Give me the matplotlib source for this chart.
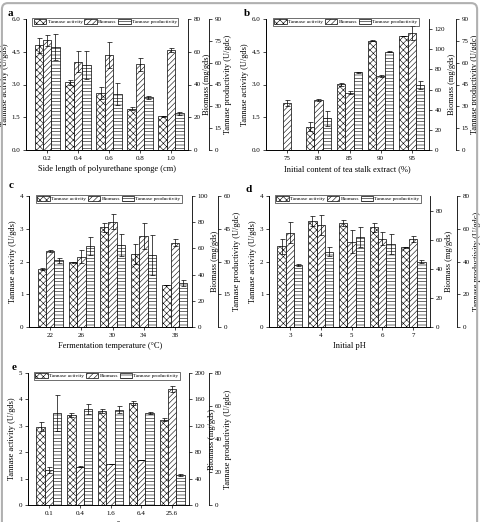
import matplotlib
matplotlib.use('Agg')
import matplotlib.pyplot as plt
import numpy as np
from matplotlib.patches import FancyBboxPatch

plt.rcParams['font.family'] = ['Liberation Serif', 'DejaVu Serif']
plt.rcParams['hatch.linewidth'] = 0.4
plt.rcParams['axes.linewidth'] = 0.6
plt.rcParams['mathtext.fontset'] = 'stix'

# Panel a - sponge size
a_labels = ['0.2', '0.4', '0.6', '0.8', '1.0']
a_act = [4.8, 3.1, 2.6, 1.9, 1.54]
a_act_err = [0.35, 0.1, 0.27, 0.05, 0.03]
a_bio = [67, 54, 58, 52.3, 61]
a_bio_err = [3.5, 6.5, 8, 4, 1]
a_prod = [71, 58.5, 38.2, 36.2, 25.2]
a_prod_err = [9, 9.5, 7.6, 1.2, 1]

# Panel b - tea stalk extract content
b_labels = ['75', '80', '85', '90', '95']
b_act = [np.nan, 1.07, 3.01, 5.0, 5.22]
b_act_err = [np.nan, 0.2, 0.06, 0.03, 0.02]
b_bio = [47, 49.6, 57, 73.7, 115.8]
b_bio_err = [3, 1, 1.5, 1, 7]
b_prod = [np.nan, 21.8, 53.4, 67.5, 44.7]
b_prod_err = [np.nan, 5, 0.3, 0.3, 3]

# Panel c - temperature
c_labels = ['22', '26', '30', '34', '38']
c_act = [1.77, 1.97, 3.04, 2.23, 1.28]
c_act_err = [0.03, 0.03, 0.15, 0.3, 0.01]
c_bio = [58.1, 53.8, 80.5, 69.5, 64.5]
c_bio_err = [0.5, 5, 6, 10, 3]
c_prod = [30.5, 37.2, 37.6, 33, 20]
c_prod_err = [1, 4, 5, 9, 1.3]

# Panel d - pH
d_labels = ['3', '4', '5', '6', '7']
d_act = [2.46, 3.24, 3.17, 3.04, 2.43]
d_act_err = [0.22, 0.15, 0.1, 0.15, 0.02]
d_bio = [64.9, 70.1, 58.5, 60.8, 60.3]
d_bio_err = [7, 7, 8, 4.5, 2]
d_prod = [38, 46.1, 54.8, 50.6, 40]
d_prod_err = [0.5, 3, 6, 6, 1]

# Panel e - inoculum size
e_labels = ['0.1', '0.4', '1.6', '6.4', '25.6']
e_act = [2.97, 3.42, 3.57, 3.86, 3.23]
e_act_err = [0.17, 0.08, 0.08, 0.08, 0.06]
e_bio = [53, 58.2, 62.3, 68.4, 175.7]
e_bio_err = [5, 1, 0.5, 0.5, 4]
e_prod = [55.7, 58.3, 57.7, 55.7, 18.2]
e_prod_err = [11, 3, 2, 0.8, 0.8]

W, H = 480, 522
fig = plt.figure(figsize=(W / 100, H / 100), dpi=100)

# light rounded frame around the whole figure
fig.patches.append(FancyBboxPatch((0.004, -0.05), 0.99, 1.044,
                                  boxstyle='round,pad=0,rounding_size=0.012',
                                  transform=fig.transFigure, fill=False,
                                  edgecolor='#b0b0b0', linewidth=1.5))

TICK = 5
LAB = 6
bw = 0.27
ebkw = dict(fmt='none', ecolor='black', elinewidth=0.5, capsize=1.8, capthick=0.5)


def px(l, t, r, b):
    return [l / W, 1 - b / H, (r - l) / W, (b - t) / H]


def panel(rect, letter, lpos, labels, xlabel, act, act_err, bio, bio_err, prod, prod_err,
          lim1, ticks1, fmt1, lim2, ticks2, lim3, ticks3, off):
    ax = fig.add_axes(rect)
    ax2 = ax.twinx()
    ax3 = ax.twinx()
    x = np.arange(len(labels))

    b1 = ax.bar(x - bw, act, bw, color='white', edgecolor='black', hatch='xxxxx', linewidth=0.5)
    ax.errorbar(x - bw, act, yerr=act_err, **ebkw)
    b2 = ax2.bar(x, bio, bw, color='white', edgecolor='black', hatch='//////', linewidth=0.5)
    ax2.errorbar(x, bio, yerr=bio_err, **ebkw)
    b3 = ax3.bar(x + bw, prod, bw, color='white', edgecolor='black', hatch='-----', linewidth=0.5)
    ax3.errorbar(x + bw, prod, yerr=prod_err, **ebkw)

    ax.set_xlim(-0.68, 4.55)
    ax.set_xticks(x)
    ax.set_xticklabels(labels)
    ax.set_ylim(*lim1)
    ax.set_yticks(ticks1)
    ax.set_yticklabels([fmt1.format(t) for t in ticks1])
    ax2.set_ylim(*lim2)
    ax2.set_yticks(ticks2)
    ax3.set_ylim(*lim3)
    ax3.set_yticks(ticks3)

    for a in (ax, ax2, ax3):
        a.spines['top'].set_visible(False)
        a.tick_params(labelsize=TICK, width=0.5, length=2.5, direction='out', pad=1.5)
    ax.spines['right'].set_visible(False)
    ax3.spines['left'].set_visible(False)
    ax3.spines['bottom'].set_visible(False)
    ax3.spines['right'].set_position(('axes', 1 + off))

    ax.set_xlabel(xlabel, fontsize=LAB, labelpad=3)
    ax.set_ylabel('Tannase activity (U/gds)', fontsize=LAB, labelpad=2)
    ax2.set_ylabel('Biomass (mg/gds)', fontsize=LAB, labelpad=2)
    ax3.set_ylabel('Tannase productivity (U/gdc)', fontsize=LAB, labelpad=2)

    leg = ax3.legend([b1, b2, b3], ['Tannase activity', 'Biomass', 'Tannase productivity'],
                     loc='upper center', bbox_to_anchor=(0.49, 1.01), ncol=3, fontsize=3.9,
                     frameon=True, fancybox=False,
                     edgecolor='black', handlelength=2.3, handleheight=1.1,
                     handletextpad=0.25, columnspacing=0.3, borderpad=0.25,
                     borderaxespad=0.0)
    leg.get_frame().set_linewidth(0.5)
    fig.text(lpos[0] / W, 1 - lpos[1] / H, letter, fontsize=8, fontweight='bold',
             ha='left', va='center')


panel(px(26, 19, 188, 150), 'a', (8, 13), a_labels, 'Side length of polyurethane sponge (cm)',
      a_act, a_act_err, a_bio, a_bio_err, a_prod, a_prod_err,
      (0, 6), [0, 1.5, 3.0, 4.5, 6.0], '{:.1f}', (0, 80), [0, 20, 40, 60, 80],
      (0, 90), [0, 15, 30, 45, 60, 75, 90], 0.13)

panel(px(266, 19, 429, 150), 'b', (244, 13), b_labels, 'Initial content of tea stalk extract (%)',
      b_act, b_act_err, b_bio, b_bio_err, b_prod, b_prod_err,
      (0, 6), [0, 1.5, 3.0, 4.5, 6.0], '{:.1f}', (0, 130), [0, 20, 40, 60, 80, 100, 120],
      (0, 90), [0, 15, 30, 45, 60, 75, 90], 0.166)

panel(px(29, 196, 192, 327), 'c', (9, 185), c_labels, 'Fermentation temperature (\u00b0C)',
      c_act, c_act_err, c_bio, c_bio_err, c_prod, c_prod_err,
      (0, 4), [0, 1, 2, 3, 4], '{:.0f}', (0, 100), [0, 20, 40, 60, 80, 100],
      (0, 60), [0, 15, 30, 45, 60], 0.16)

panel(px(269, 196, 430, 327), 'd', (246, 190), d_labels, 'Initial pH',
      d_act, d_act_err, d_bio, d_bio_err, d_prod, d_prod_err,
      (0, 4), [0, 1, 2, 3, 4], '{:.0f}', (0, 90), [0, 20, 40, 60, 80],
      (0, 80), [0, 20, 40, 60, 80], 0.168)

panel(px(28, 373, 189, 505), 'e', (12, 368), e_labels, 'Inoculum size (10$^7$ spores/gds)',
      e_act, e_act_err, e_bio, e_bio_err, e_prod, e_prod_err,
      (0, 5), [0, 1, 2, 3, 4, 5], '{:.0f}', (0, 200), [0, 40, 80, 120, 160, 200],
      (0, 80), [0, 20, 40, 60, 80], 0.124)

fig.savefig('out.png', dpi=100)
